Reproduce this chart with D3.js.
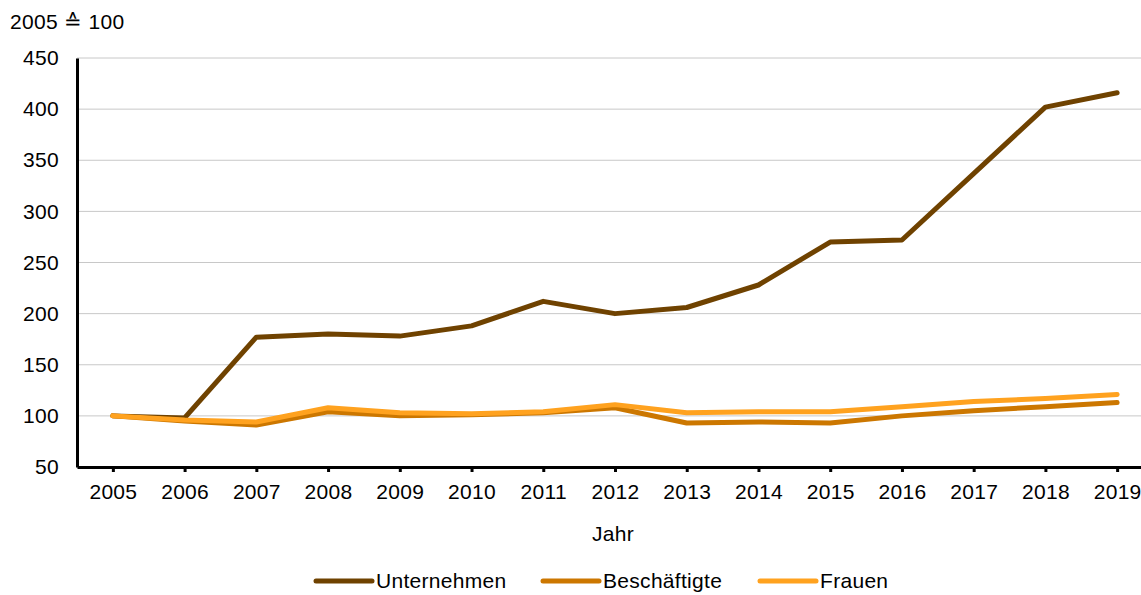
<!DOCTYPE html>
<html>
<head>
<meta charset="utf-8">
<script src="https://cdn.jsdelivr.net/npm/d3@7"></script>
<style>
  body { margin: 0; background: #fff; }
  text { font-family: "Liberation Sans", Arial, sans-serif; fill: #000; letter-spacing: 0.3px; }
</style>
</head>
<body>
<svg width="1141" height="595"></svg>
<script>
// data
const years = ["2005","2006","2007","2008","2009","2010","2011","2012","2013","2014","2015","2016","2017","2018","2019"];
const unternehmen = [100, 98, 177, 180, 178, 188, 212, 200, 206, 228, 270, 272, 337, 402, 416];
const beschaeftigte = [100, 95, 91, 104, 100, 101, 103, 108, 93, 94, 93, 100, 105, 109, 113];
const frauen = [100, 96, 94, 108, 103, 102, 104, 111, 103, 104, 104, 109, 114, 117, 121];
const yTicks = [50, 100, 150, 200, 250, 300, 350, 400, 450];

const series = [
  { name: "Unternehmen", values: unternehmen, color: "#6f4200" },
  { name: "Beschäftigte", values: beschaeftigte, color: "#cc7700" },
  { name: "Frauen", values: frauen, color: "#ffa21f" }
];

const svg = d3.select("svg");
const plotLeft = 77, plotRight = 1153, plotTop = 58, plotBottom = 467;
const fontSize = "21px";

let x = d3.scalePoint().domain(years).range([plotLeft, plotRight]).padding(0.5);
let y = d3.scaleLinear().domain([50, 450]).range([plotBottom, plotTop]);

// grid lines
svg.append("g").selectAll("line")
  .data(yTicks.slice(1))
  .enter().append("line")
  .attr("x1", plotLeft).attr("x2", 1141)
  .attr("y1", d => y(d)).attr("y2", d => y(d))
  .attr("stroke", "#c8c8c8").attr("stroke-width", 1);

// y axis
const yAxis = svg.append("g").attr("transform", "translate(" + plotLeft + ",0)")
  .call(d3.axisLeft(y).tickValues(yTicks).tickSize(0).tickPadding(18));
yAxis.select(".domain").attr("stroke", "#000").attr("stroke-width", 3);
yAxis.selectAll("text").style("font-size", fontSize).attr("font-family", null);

// x axis
const xAxis = svg.append("g").attr("transform", "translate(0," + plotBottom + ")")
  .call(d3.axisBottom(x).tickSize(5).tickSizeOuter(0).tickPadding(12));
xAxis.select(".domain").attr("stroke", "#000").attr("stroke-width", 3);
xAxis.selectAll(".tick line").attr("stroke", "#000").attr("stroke-width", 3);
xAxis.selectAll("text").style("font-size", fontSize).attr("font-family", null);

// lines
const line = d3.line().x((d, i) => x(years[i])).y(d => y(d));
svg.append("g").selectAll("path")
  .data(series)
  .enter().append("path")
  .attr("d", d => line(d.values))
  .attr("fill", "none")
  .attr("stroke", d => d.color)
  .attr("stroke-width", 5)
  .attr("stroke-linecap", "round")
  .attr("stroke-linejoin", "round");

// titles
svg.append("text").attr("x", 10).attr("y", 29).style("font-size", fontSize).text("2005 ≙ 100");
svg.append("text").attr("x", 613).attr("y", 541).attr("text-anchor", "middle")
  .style("font-size", fontSize).text("Jahr");

// legend
const legendX = [316, 543, 760];
const legend = svg.append("g").selectAll("g")
  .data(series)
  .enter().append("g")
  .attr("transform", (d, i) => "translate(" + legendX[i] + ",581)");
legend.append("line")
  .attr("x1", 0).attr("x2", 56).attr("y1", 0).attr("y2", 0)
  .attr("stroke", d => d.color).attr("stroke-width", 5).attr("stroke-linecap", "round");
legend.append("text")
  .attr("x", 60).attr("y", 7).style("font-size", fontSize)
  .text(d => d.name);
</script>
</body>
</html>
